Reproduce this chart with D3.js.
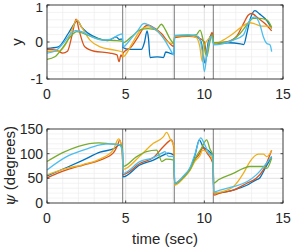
<!DOCTYPE html>
<html><head><meta charset="utf-8">
<script src="https://cdn.jsdelivr.net/npm/d3@7"></script>
<style>html,body{margin:0;padding:0;background:#fff;}svg{display:block;font-family:"Liberation Sans",Arial,sans-serif;}</style>
</head><body>
<svg id="c" width="291" height="248"></svg>
<script>
const colors = ["#0072BD","#D95319","#EDB120","#77AC30","#4DBEEE"];
const boundaries = [4.81, 8.09, 10.57];
const xTicks = [0,5,10,15];
const yTicksTop = [-1,0,1];
const yTicksBot = [0,50,100,150];

// top panel: y
const yBlue = [[0,-0.17],[0.72,-0.13],[1.35,0.23],[1.75,0.5],[1.93,0.58],[2.2,0.4],[2.6,0.24],[3.24,0.1],[3.87,0.04],[4.4,0.14],[4.6,0.07],[4.79,0.08],
 [4.83,-0.15],[5.2,-0.2],[6.0,-0.2],[6.2,0.0],[6.36,0.3],[6.45,0.1],[6.55,-0.42],[7.0,-0.4],[7.4,-0.42],[7.55,-0.27],[7.8,-0.3],[8.07,-0.33],
 [8.11,0.15],[9.0,0.17],[9.5,0.15],[9.8,0.0],[10.05,-0.58],[10.25,0.0],[10.5,0.2],
 [10.6,-0.05],[11.5,-0.02],[12.3,-0.05],[12.5,-0.07],[12.7,0.23],[12.9,0.6],[13.22,0.85],[13.5,0.76],[13.97,0.58],[14.28,0.37]];
const yOrange = [[0,-0.2],[0.6,-0.22],[1.0,-0.3],[1.3,-0.25],[1.6,0.2],[1.85,0.62],[2.05,0.3],[2.4,-0.13],[3.0,-0.25],[4.0,-0.3],[4.45,-0.35],[4.58,-0.53],[4.7,-0.35],[4.79,-0.4],
 [4.83,-0.3],[5.36,-0.13],[5.79,0.14],[6.2,0.41],[6.42,0.46],[6.85,0.37],[7.27,0.23],[7.69,0.01],[8.07,-0.12],
 [8.11,0.12],[9.0,0.15],[9.6,0.12],[10.0,0.0],[10.15,-0.3],[10.35,0.1],[10.5,0.26],
 [10.6,-0.04],[11.4,0.0],[12.06,0.16],[12.48,0.49],[12.8,0.73],[13.0,0.77],[13.43,0.64],[13.85,0.5],[14.28,0.3]];
const yYellow = [[0,-0.25],[0.7,-0.25],[1.2,-0.05],[1.6,0.35],[1.9,0.6],[2.2,0.4],[2.73,0.05],[3.37,-0.13],[4.3,-0.22],[4.79,-0.27],
 [4.83,-0.4],[5.36,-0.08],[5.79,0.23],[6.1,0.37],[6.42,0.41],[7.05,0.28],[7.69,0.0],[8.07,-0.05],
 [8.11,0.15],[9.0,0.17],[9.5,0.12],[9.7,-0.1],[9.87,-0.53],[10.0,-0.1],[10.3,0.1],[10.5,0.15],
 [10.6,-0.05],[11.2,0.05],[11.84,0.23],[12.37,0.41],[12.9,0.52],[13.2,0.49],[13.65,0.43],[14.07,0.43],[14.28,0.37]];
const yGreen = [[0,-0.47],[0.5,-0.4],[1.0,-0.15],[1.5,0.15],[1.9,0.28],[2.5,0.2],[3.0,0.12],[3.7,0.05],[4.3,0.04],[4.79,0.02],
 [4.83,-0.02],[5.36,0.14],[6.0,0.34],[6.42,0.36],[6.95,0.34],[7.27,0.48],[7.5,0.35],[7.8,0.1],[8.07,-0.04],
 [8.11,0.17],[9.0,0.17],[9.5,0.2],[9.73,0.32],[9.9,0.1],[10.15,-0.4],[10.35,0.0],[10.5,0.2],
 [10.6,-0.02],[11.5,0.0],[12.27,0.23],[12.7,0.46],[13.1,0.64],[13.5,0.64],[13.97,0.6],[14.28,0.4]];
const yCyan = [[0,-0.3],[0.5,-0.25],[1.0,-0.05],[1.5,0.22],[1.8,0.31],[2.2,0.28],[2.8,0.15],[3.5,0.05],[4.0,0.07],[4.5,0.18],[4.79,0.22],
 [4.83,-0.13],[5.36,0.1],[5.79,0.32],[6.1,0.49],[6.2,0.5],[6.64,0.41],[7.05,0.28],[7.48,0.05],[7.79,-0.17],[8.07,-0.35],
 [8.11,0.18],[9.0,0.2],[9.6,0.15],[9.85,-0.2],[10.0,-0.8],[10.2,-0.2],[10.45,0.15],
 [10.6,-0.08],[11.84,0.05],[12.48,0.19],[12.9,0.6],[13.22,0.68],[13.54,0.46],[13.75,0.14],[13.97,-0.04],[14.18,-0.08],[14.28,-0.26]];

// bottom panel: psi (degrees)
const psiBlue = [[0,55],[1.25,72],[2.3,87],[3.37,103],[4.3,111],[4.6,118],[4.79,112],
 [4.83,53],[5.9,77],[6.76,87],[7.39,97],[7.7,101],[8.07,97],
 [8.11,38],[8.67,53],[9.09,70],[9.41,97],[9.68,128],[9.9,115],[10.3,105],[10.55,95],
 [10.6,20],[11.84,26],[12.7,36],[13.3,47],[13.5,50],[13.86,70],[14.28,94]];
const psiOrange = [[0,51],[1.25,67],[2.3,77],[3.37,87],[4.2,101],[4.5,118],[4.62,128],[4.79,100],
 [4.83,58],[5.9,80],[6.76,92],[7.39,114],[7.78,126],[7.9,128],[8.07,110],
 [8.11,40],[8.67,53],[9.09,68],[9.41,88],[9.7,100],[9.9,112],[10.2,100],[10.55,80],
 [10.6,16],[11.0,20],[11.84,26],[12.7,40],[13.3,50],[13.75,67],[14.28,107]];
const psiYellow = [[0,57],[1.25,70],[2.3,78],[3.37,89],[4.2,107],[4.55,130],[4.7,120],[4.79,100],
 [4.83,68],[5.9,95],[6.76,121],[7.39,134],[7.6,143],[7.86,128],[8.07,115],
 [8.11,36],[8.67,50],[9.09,66],[9.41,85],[9.7,95],[9.9,107],[10.3,100],[10.55,85],
 [10.6,20],[11.0,22],[11.84,33],[12.48,60],[12.9,84],[13.43,99],[13.75,99],[13.97,94],[14.28,107]];
const psiGreen = [[0,84],[1.0,102],[2.0,115],[3.3,122],[4.0,120],[4.7,118],[4.79,110],
 [4.83,74],[5.7,94],[6.33,104],[6.97,107],[7.14,95],[7.29,84],[7.6,89],[8.07,87],
 [8.11,40],[8.67,52],[9.09,68],[9.41,90],[9.8,110],[10.15,128],[10.35,110],[10.55,95],
 [10.6,40],[10.9,47],[11.84,60],[12.48,70],[12.9,74],[13.43,74],[13.75,74],[13.97,70],[14.28,91]];
const psiCyan = [[0,67],[1.25,94],[2.3,107],[3.37,118],[4.0,120],[4.6,118],[4.79,105],
 [4.83,60],[5.9,84],[6.76,92],[7.3,101],[7.5,104],[7.7,95],[8.07,94],
 [8.11,40],[8.67,55],[9.09,72],[9.41,100],[9.77,132],[10.0,120],[10.3,100],[10.55,95],
 [10.6,23],[11.0,26],[11.84,33],[12.7,43],[13.3,57],[13.86,77],[14.28,94]];

const topSeries = [yBlue,yOrange,yYellow,yGreen,yCyan];
const botSeries = [psiBlue,psiOrange,psiYellow,psiGreen,psiCyan];

const svg = d3.select("#c");
const L = 47, R = 283;
const x = d3.scaleLinear().domain([0,15]).range([L,R]);
const axisCol = "#262626";

function panel(top, bottom, yDomain, yTicks, minorStep, series) {
  const y = d3.scaleLinear().domain(yDomain).range([bottom, top]);
  const g = svg.append("g");
  const xm = d3.range(0, 15.001, 1);
  const ym = d3.range(yDomain[0], yDomain[1] + 1e-6, minorStep);
  g.selectAll(null).data(xm).enter().append("line")
    .attr("x1", d => x(d)).attr("x2", d => x(d)).attr("y1", top).attr("y2", bottom)
    .attr("stroke", "#eeeeee").attr("stroke-width", 0.7);
  g.selectAll(null).data(ym).enter().append("line")
    .attr("y1", d => y(d)).attr("y2", d => y(d)).attr("x1", L).attr("x2", R)
    .attr("stroke", "#eeeeee").attr("stroke-width", 0.7);
  g.selectAll(null).data(xTicks).enter().append("line")
    .attr("x1", d => x(d)).attr("x2", d => x(d)).attr("y1", top).attr("y2", bottom)
    .attr("stroke", "#dedede").attr("stroke-width", 0.8);
  g.selectAll(null).data(yTicks).enter().append("line")
    .attr("y1", d => y(d)).attr("y2", d => y(d)).attr("x1", L).attr("x2", R)
    .attr("stroke", "#dedede").attr("stroke-width", 0.8);
  g.selectAll(null).data(boundaries).enter().append("line")
    .attr("x1", d => x(d)).attr("x2", d => x(d)).attr("y1", top).attr("y2", bottom)
    .attr("stroke", "#7a7a7a").attr("stroke-width", 1);
  const line = d3.line().x(d => x(d[0])).y(d => y(d[1])).curve(d3.curveMonotoneX);
  series.forEach((s, i) => {
    g.append("path").attr("d", line(s)).attr("fill", "none")
      .attr("stroke", colors[i]).attr("stroke-width", 1.3).attr("stroke-linejoin", "round");
  });
  g.append("rect").attr("x", L).attr("y", top).attr("width", R - L).attr("height", bottom - top)
    .attr("fill", "none").attr("stroke", axisCol).attr("stroke-width", 0.8);
  const tl = 2.5;
  g.selectAll(null).data(xTicks).enter().append("line")
    .attr("x1", d => x(d)).attr("x2", d => x(d)).attr("y1", bottom).attr("y2", bottom - tl)
    .attr("stroke", axisCol).attr("stroke-width", 0.8);
  g.selectAll(null).data(xTicks).enter().append("line")
    .attr("x1", d => x(d)).attr("x2", d => x(d)).attr("y1", top).attr("y2", top + tl)
    .attr("stroke", axisCol).attr("stroke-width", 0.8);
  g.selectAll(null).data(yTicks).enter().append("line")
    .attr("y1", d => y(d)).attr("y2", d => y(d)).attr("x1", L).attr("x2", L + tl)
    .attr("stroke", axisCol).attr("stroke-width", 0.8);
  g.selectAll(null).data(yTicks).enter().append("line")
    .attr("y1", d => y(d)).attr("y2", d => y(d)).attr("x1", R).attr("x2", R - tl)
    .attr("stroke", axisCol).attr("stroke-width", 0.8);
  g.selectAll(null).data(xTicks).enter().append("text")
    .attr("x", d => x(d)).attr("y", bottom + 20).attr("text-anchor", "middle")
    .attr("font-size", 14).attr("fill", axisCol).text(d => d);
  g.selectAll(null).data(yTicks).enter().append("text")
    .attr("x", L - 4).attr("y", d => Math.max(y(d) + 5, 12.4)).attr("text-anchor", "end")
    .attr("font-size", d => y(d) + 5 < 12.4 ? 13.5 : 14).attr("fill", axisCol).text(d => d);
  return y;
}

panel(5, 79, [-1,1], yTicksTop, 0.2, topSeries);
panel(129, 203, [0,150], yTicksBot, 10, botSeries);

svg.append("text").attr("transform", "translate(22,42) rotate(-90)")
  .attr("text-anchor", "middle").attr("font-size", 15).attr("fill", axisCol).text("y");
const yl = svg.append("text").attr("transform", "translate(15,166) rotate(-90)")
  .attr("text-anchor", "middle").attr("font-size", 15).attr("fill", axisCol);
yl.append("tspan").attr("font-style", "italic").attr("font-family", "DejaVu Serif, serif").text("ψ");
yl.append("tspan").text(" (degrees)");
svg.append("text").attr("x", 165).attr("y", 244).attr("text-anchor", "middle")
  .attr("font-size", 15).attr("fill", axisCol).text("time (sec)");
</script>
</body></html>
